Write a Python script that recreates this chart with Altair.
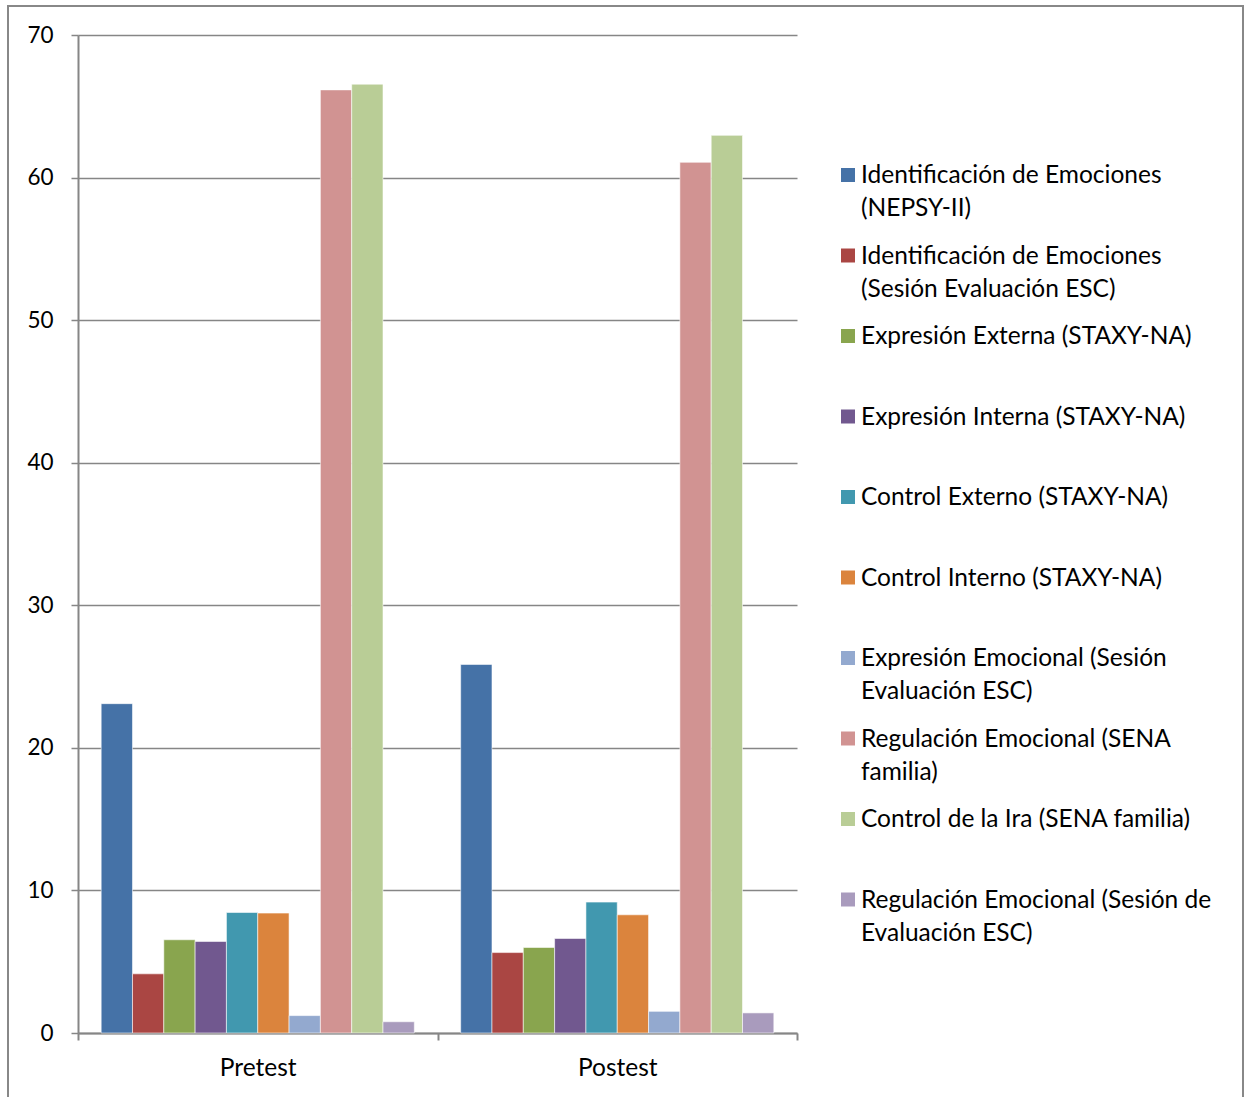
import altair as alt
import pandas as pd

groups = ["Pretest", "Postest"]
series = [
    "Identificación de Emociones\n(NEPSY-II)",
    "Identificación de Emociones\n(Sesión Evaluación ESC)",
    "Expresión Externa (STAXY-NA)",
    "Expresión Interna (STAXY-NA)",
    "Control Externo (STAXY-NA)",
    "Control Interno (STAXY-NA)",
    "Expresión Emocional (Sesión\nEvaluación ESC)",
    "Regulación Emocional (SENA\nfamilia)",
    "Control de la Ira (SENA familia)",
    "Regulación Emocional (Sesión de\nEvaluación ESC)",
]
pretest = [23.1, 4.15, 6.54, 6.42, 8.45, 8.41, 1.22, 66.15, 66.55, 0.79]
postest = [25.85, 5.64, 6.0, 6.63, 9.18, 8.29, 1.52, 61.07, 62.96, 1.41]
colors = ["#4572A7", "#AA4643", "#89A54E", "#71588F", "#4198AF",
          "#DB843D", "#93A9CF", "#D19392", "#B9CD96", "#A99BBD"]
y_ticks = [0, 10, 20, 30, 40, 50, 60, 70]

rows = []
for g, vals in zip(groups, [pretest, postest]):
    for s, v in zip(series, vals):
        rows.append({"group": g, "series": s, "value": v})
df = pd.DataFrame(rows)
leg = pd.DataFrame({"series": series})

color_scale = alt.Scale(domain=series, range=colors)

bars = alt.Chart(df).mark_bar(stroke="white", strokeWidth=0.8, strokeOpacity=0.7).encode(
    x=alt.X("group:N", sort=groups, title=None,
            scale=alt.Scale(paddingInner=0, paddingOuter=0),
            axis=alt.Axis(labelAngle=0, tickBand="extent", tickSize=7,
                          labelPadding=16, domainColor="#868686", tickColor="#868686",
                          domainWidth=2, tickWidth=2, labelFontSize=24.5, labelColor="#000")),
    xOffset=alt.XOffset("series:N", sort=series,
                        scale=alt.Scale(paddingInner=0, paddingOuter=0.74)),
    y=alt.Y("value:Q", title=None,
            scale=alt.Scale(domain=[0, 70], nice=False),
            axis=alt.Axis(values=y_ticks, tickSize=7, labelPadding=18,
                          domainColor="#868686", tickColor="#868686",
                          gridColor="#868686", gridWidth=1.5,
                          domainWidth=2, tickWidth=1.5,
                          labelFontSize=22.5, labelColor="#000")),
    color=alt.Color("series:N", scale=color_scale, legend=None),
)

leg_y = alt.Y("series:N", sort=series,
              scale=alt.Scale(type="point", domain=series, range=[140, 864.5], padding=0),
              axis=None)

leg_sym = alt.Chart(leg).mark_square(size=196, opacity=1).encode(
    x=alt.value(770),
    y=leg_y,
    color=alt.Color("series:N", scale=color_scale, legend=None),
)

leg_txt = alt.Chart(leg).mark_text(
    align="left", baseline="alphabetic", lineBreak="\n", lineHeight=33,
    fontSize=24.5, dy=8, color="#000"
).encode(
    x=alt.value(783),
    y=leg_y,
    text="series:N",
)

border = alt.Chart(pd.DataFrame({"a": [0]})).mark_rect(
    fillOpacity=0, stroke="#888888", strokeWidth=2
).encode(
    x=alt.value(-70), x2=alt.value(1165), y=alt.value(-29), y2=alt.value(1090)
)

chart = alt.layer(bars, leg_sym, leg_txt, border).resolve_scale(
    y="independent"
).properties(
    width=719, height=998,
    padding={"left": 78, "top": 35, "right": 454, "bottom": 64},
    autosize=alt.AutoSizeParams(type="none"),
).configure(font="Lato").configure_view(strokeWidth=0)

chart.save("out.html", embed_options={"renderer": "svg", "actions": False})
